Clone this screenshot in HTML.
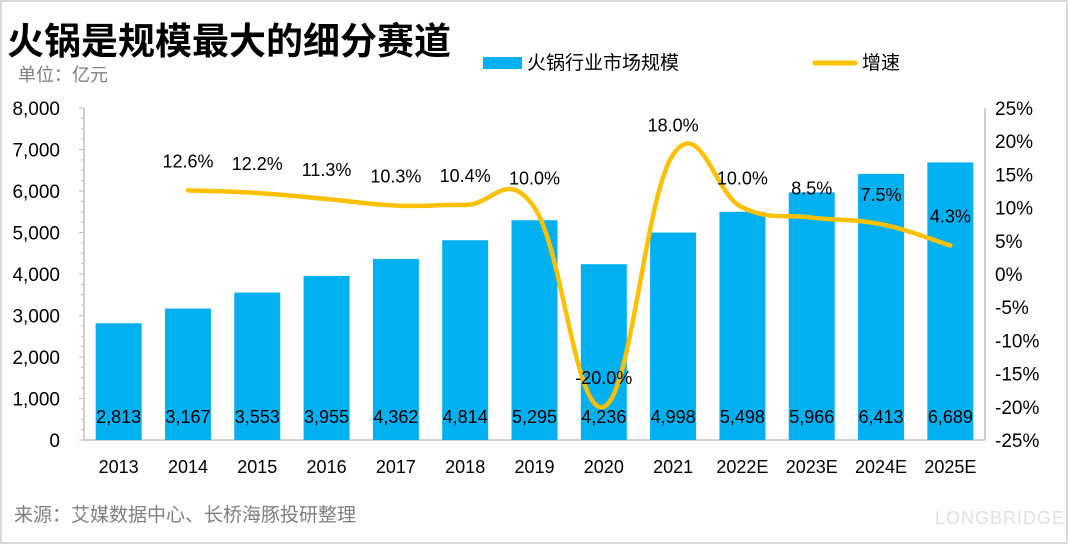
<!DOCTYPE html>
<html><head><meta charset="utf-8"><style>
body{margin:0;background:#fff}
#wrap{position:relative;width:1068px;height:544px;box-sizing:border-box;border:2px solid #d9d9d9;overflow:hidden;font-family:"Liberation Sans","Noto Sans CJK SC",sans-serif}
</style></head><body>
<div id="wrap">
<svg id="chart" width="1064" height="540" viewBox="2 2 1064 540" xmlns="http://www.w3.org/2000/svg" style="display:block">
<text x="7" y="54" font-size="37" font-weight="bold" fill="#000" font-family="'Noto Sans CJK SC',sans-serif">火锅是规模最大的细分赛道</text>
<text x="18" y="81" font-size="18" fill="#7f7f7f" font-family="'Noto Sans CJK SC',sans-serif">单位：亿元</text>
<rect x="483" y="57" width="39" height="12" fill="#00b0f0"/>
<text x="527" y="69" font-size="19" fill="#000" font-family="'Noto Sans CJK SC',sans-serif">火锅行业市场规模</text>
<line x1="815" y1="63" x2="855" y2="63" stroke="#fbc000" stroke-width="5" stroke-linecap="round"/>
<text x="862" y="69" font-size="19" fill="#000" font-family="'Noto Sans CJK SC',sans-serif">增速</text>
<text x="14" y="521" font-size="19" fill="#7f7f7f" font-family="'Noto Sans CJK SC',sans-serif">来源：艾媒数据中心、长桥海豚投研整理</text>
<text x="935" y="524" font-size="18" fill="#e0e0e0" letter-spacing="1">LONGBRIDGE</text>
<g id="plot"></g>
</svg>
</div>
<script>
const categories=["2013","2014","2015","2016","2017","2018","2019","2020","2021","2022E","2023E","2024E","2025E"];
const marketSize=[2813,3167,3553,3955,4362,4814,5295,4236,4998,5498,5966,6413,6689];
const growth=[null,12.6,12.2,11.3,10.3,10.4,10.0,-20.0,18.0,10.0,8.5,7.5,4.3];
const leftTicks=[0,1000,2000,3000,4000,5000,6000,7000,8000];
const rightTicks=[-25,-20,-15,-10,-5,0,5,10,15,20,25];

const NS="http://www.w3.org/2000/svg";
const g=document.getElementById('plot');
const X0=84,X1=985,YB=440,YT=108;
const band=(X1-X0)/categories.length;
const xC=i=>X0+band*(i+0.5);
const yL=v=>YB-(v/8000)*(YB-YT);
const yR=v=>YB-((v+25)/50)*(YB-YT);
function mk(tag,attrs,txt){const e=document.createElementNS(NS,tag);for(const k in attrs)e.setAttribute(k,attrs[k]);if(txt!=null)e.textContent=txt;g.appendChild(e);return e;}
const fmt=v=>v.toLocaleString('en-US');

let e=mk('line',{x1:X0,y1:YT,x2:X0,y2:YB,stroke:'#bfbfbf','stroke-width':1.5});

e=mk('line',{x1:X1,y1:YT,x2:X1,y2:YB,stroke:'#bfbfbf','stroke-width':1.5});

e=mk('line',{x1:X0,y1:YB,x2:X1,y2:YB,stroke:'#bfbfbf','stroke-width':1.5});

for(let v=0;v<=8000;v+=250){const y=yL(v);const m=mk('line',{x1:X0-(v%1000?3:5),y1:y,x2:X0,y2:y,stroke:'#bfbfbf'});
}
leftTicks.forEach(v=>{const t=mk('text',{x:60,y:yL(v)+7,'font-size':19,'text-anchor':'end',fill:'#000'},fmt(v));
});
rightTicks.forEach(v=>{const t=mk('text',{x:995,y:yR(v)+7,'font-size':19,fill:'#000'},v+'%');
});

marketSize.forEach((v,i)=>{
 const w=46;
 const r=mk('rect',{x:xC(i)-w/2,y:yL(v),width:w,height:YB-yL(v),fill:'#00b0f0'});
 
 const t=mk('text',{x:xC(i),y:423,'font-size':18,'text-anchor':'middle',fill:'#000'},fmt(v));
 
 const c=mk('text',{x:xC(i),y:473,'font-size':18,'text-anchor':'middle',fill:'#000'},categories[i]);
 
});

const pts=[];growth.forEach((v,i)=>{if(v!=null)pts.push([xC(i),yR(v),v]);});
let d='M'+pts[0][0]+','+pts[0][1];
for(let i=0;i<pts.length-1;i++){
 const p0=pts[Math.max(0,i-1)],p1=pts[i],p2=pts[i+1],p3=pts[Math.min(pts.length-1,i+2)];
 const t=0.2;
 d+=' C'+(p1[0]+(p2[0]-p0[0])*t)+','+(p1[1]+(p2[1]-p0[1])*t)+' '+(p2[0]-(p3[0]-p1[0])*t)+','+(p2[1]-(p3[1]-p1[1])*t)+' '+p2[0]+','+p2[1];
}
const path=mk('path',{d:d,fill:'none',stroke:'#fbc000','stroke-width':4.5,'stroke-linecap':'round'});

pts.forEach(p=>{
 const t=mk('text',{x:p[0],y:p[1]-23,'font-size':18,'text-anchor':'middle',fill:'#000'},p[2].toFixed(1)+'%');
 
});
</script>
</body></html>
